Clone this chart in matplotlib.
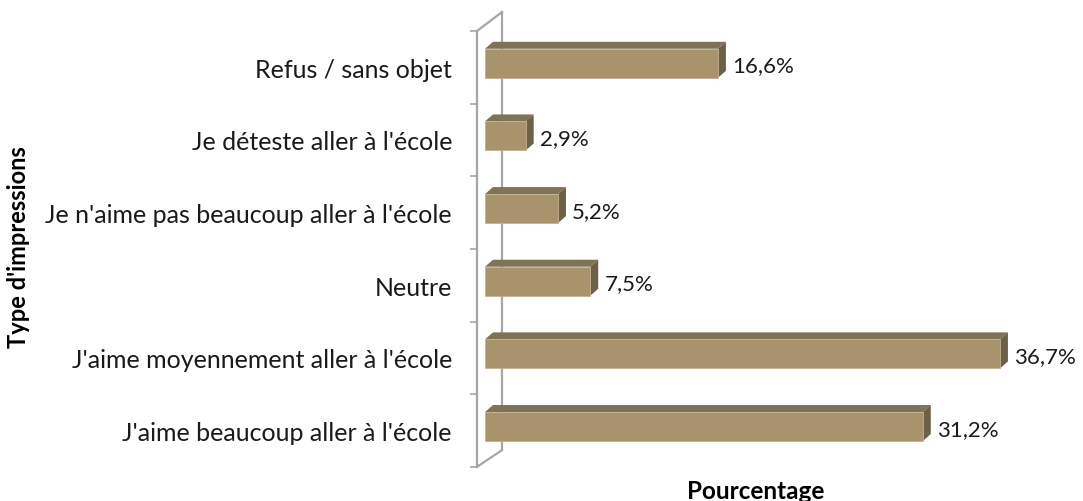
import matplotlib
matplotlib.use("Agg")
import matplotlib.pyplot as plt
from matplotlib.patches import Polygon

# data (bottom to top, as drawn)
categories = [
    "J'aime beaucoup aller à l'école",
    "J'aime moyennement aller à l'école",
    "Neutre",
    "Je n'aime pas beaucoup aller à l'école",
    "Je déteste aller à l'école",
    "Refus / sans objet",
]
values = [31.2, 36.7, 7.5, 5.2, 2.9, 16.6]
value_labels = ["31,2%", "36,7%", "7,5%", "5,2%", "2,9%", "16,6%"]

plt.rcParams['font.family'] = ['Lato', 'DejaVu Sans']

front_col = '#A8936D'
top_col = '#7F7257'
side_col = '#6C6047'
wall_col = '#A6A6A6'

W, H = 1083, 502
fig = plt.figure(figsize=(W / 100, H / 100), dpi=100)
fig.patch.set_facecolor('white')

# axes spans from the front wall line to the right edge
ax = fig.add_axes([477 / W, 0, (W - 477) / W, 1])
ax.set_xlim(-0.57, 42.62)
ax.set_ylim(-0.97, 5.94)
ax.patch.set_alpha(0)

bar_h = 0.40
off = 0.055          # bars sit a bit behind the front wall
dx, dy = 0.57, 0.096  # depth of the 3D bars

ypos = [i + off for i in range(len(values))]
bars = ax.barh(ypos, values, height=bar_h, color=front_col,
               edgecolor='#C2B295', linewidth=0.6, zorder=3)

for b, v, lab in zip(bars, values, value_labels):
    y0 = b.get_y()
    y1 = y0 + b.get_height()
    top = Polygon([(0, y1), (dx, y1 + dy), (v + dx, y1 + dy), (v, y1)],
                  closed=True, fc=top_col, ec='none', zorder=2)
    side = Polygon([(v, y0), (v, y1), (v + dx, y1 + dy), (v + dx, y0 + dy)],
                   closed=True, fc=side_col, ec='none', zorder=2)
    ax.add_patch(top)
    ax.add_patch(side)
    ax.text(v + 1.0, (y0 + y1) / 2 - 0.03, lab, ha='left', va='center',
            fontsize=16, color='#1a1a1a')

# wall lines (front, back and the two diagonals)
bx = 1.21
ax.plot([-0.57, -0.57], [-0.5, 5.5], color=wall_col, lw=1.6,
        clip_on=False, zorder=1)
ax.plot([bx, bx], [-0.27, 5.76], color=wall_col, lw=1.6,
        clip_on=False, zorder=1)
ax.plot([-0.57, bx], [5.5, 5.76], color=wall_col, lw=1.6,
        clip_on=False, zorder=1)
ax.plot([-0.57, bx], [-0.5, -0.27], color=wall_col, lw=1.6,
        clip_on=False, zorder=1)

for s in ax.spines.values():
    s.set_visible(False)

ax.set_xticks([])
ax.set_yticks(range(len(categories)))
ax.set_yticklabels(categories, fontsize=18, color='#1a1a1a')
ax.tick_params(axis='y', which='major', length=0, pad=18)
ax.set_yticks([i - 0.5 for i in range(len(categories) + 1)], minor=True)
ax.tick_params(axis='y', which='minor', length=5, width=1.2,
               color=wall_col)

fig.text(19 / W, 1 - 247 / H, "Type d'impressions", rotation=90,
         ha='center', va='center', fontsize=17, fontweight='bold')
fig.text(756 / W, 1 - 492 / H, "Pourcentage", ha='center', va='center',
         fontsize=17.5, fontweight='bold')

fig.savefig('out.png', dpi=100, facecolor='white')
